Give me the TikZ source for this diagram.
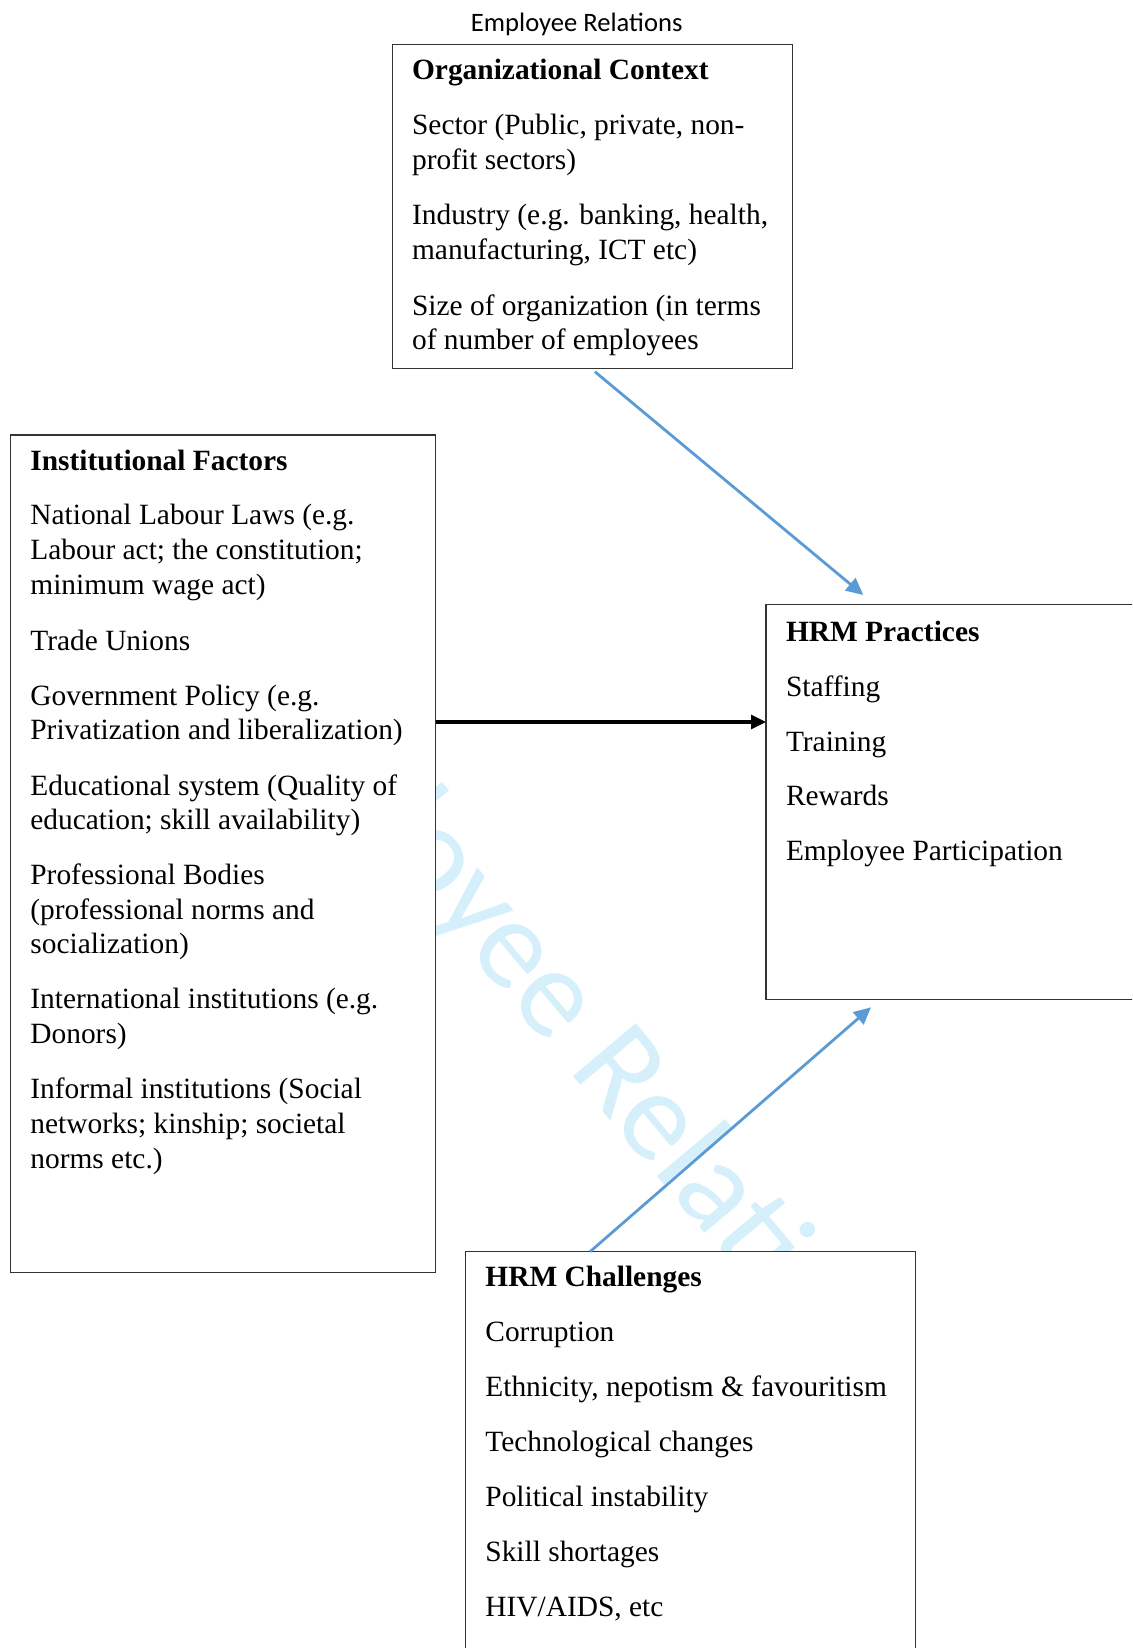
\documentclass[tikz,border=0pt]{standalone}
\usepackage{fontspec}
\setmainfont{Liberation Serif}
\newfontfamily\wmfont{Carlito}
\usetikzlibrary{arrows.meta}
\definecolor{arrowblue}{RGB}{91,155,213}
\definecolor{wmblue}{RGB}{213,239,251}
\begin{document}
\begin{tikzpicture}[x=0.5pt,y=-0.5pt,
  box/.style={draw=black!80, line width=0.65pt, fill=white, inner sep=0pt, outer sep=0pt, anchor=north west},
  txt/.style={anchor=base west, inner sep=0pt, font=\fontsize{14.7}{17}\selectfont},
  hd/.style={txt, font=\fontsize{14.7}{17}\selectfont\bfseries},
  barrow/.style={draw=arrowblue, line width=1.4pt, -{Triangle[length=8.5pt,width=8pt]}},
  karrow/.style={draw=black, line width=1.6pt, -{Triangle[length=7.5pt,width=7pt]}}]
\useasboundingbox (0,0) rectangle (1132,1648);
\clip (0,0) rectangle (1132,1648);

% watermark
\node[anchor=base, inner sep=0pt, rotate=-50, text=wmblue, font=\wmfont\fontsize{64}{64}\selectfont] (wm) at (546.7,1045) {Employee Relations};

% title
\node[anchor=base, inner sep=0pt, font=\wmfont\fontsize{13.3}{15}\selectfont] (title) at (576.7,31.7) {Employee Relations};

% boxes
\node[box, minimum width=200pt, minimum height=162pt] (org) at (392.7,44.3) {};
\node[box, minimum width=212.4pt, minimum height=418.65pt] (inst) at (10.7,435) {};
\node[box, minimum width=190pt, minimum height=197.6pt] (hrm) at (766,604.5) {};
\node[box, minimum width=225pt, minimum height=210pt] (chal) at (465.7,1251.7) {};

% organizational context
\node[hd] (o1) at (411.7,80) {Organizational Context};
\node[txt] (o2) at (411.7,135) {Sector (Public, private, non-};
\node[txt] (o3) at (411.7,170) {profit sectors)};
\node[txt] (o4) at (411.7,225) {Industry (e.g. banking, health,};
\node[txt] (o5) at (411.7,260) {manufacturing, ICT etc)};
\node[txt] (o6) at (411.7,315) {Size of organization (in terms};
\node[txt] (o7) at (411.7,349) {of number of employees};

% institutional factors
\node[hd] (i1) at (30,470) {Institutional Factors};
\node[txt] (i2) at (30,524) {National Labour Laws (e.g.};
\node[txt] (i3) at (30,559) {Labour act; the constitution;};
\node[txt] (i4) at (30,594) {minimum wage act)};
\node[txt] (i5) at (30,650) {Trade Unions};
\node[txt] (i6) at (30,705) {Government Policy (e.g.};
\node[txt] (i7) at (30,739.5) {Privatization and liberalization)};
\node[txt] (i8) at (30,795) {Educational system (Quality of};
\node[txt] (i9) at (30,829.5) {education; skill availability)};
\node[txt] (i10) at (30,884) {Professional Bodies};
\node[txt] (i11) at (30,919) {(professional norms and};
\node[txt] (i12) at (30,953.5) {socialization)};
\node[txt] (i13) at (30,1008.5) {International institutions (e.g.};
\node[txt] (i14) at (30,1043.5) {Donors)};
\node[txt] (i15) at (30,1098.5) {Informal institutions (Social};
\node[txt] (i16) at (30,1133.5) {networks; kinship; societal};
\node[txt] (i17) at (30,1168.5) {norms etc.)};

% HRM practices
\node[hd] (h1) at (785.6,641) {HRM Practices};
\node[txt] (h2) at (785.6,696) {Staffing};
\node[txt] (h3) at (785.6,751) {Training};
\node[txt] (h4) at (785.6,805.5) {Rewards};
\node[txt] (h5) at (785.6,860.5) {Employee Participation};

% HRM challenges
\node[hd] (c1) at (485,1286.7) {HRM Challenges};
\node[txt] (c2) at (485,1341.7) {Corruption};
\node[txt] (c3) at (485,1396.7) {Ethnicity, nepotism \& favouritism};
\node[txt] (c4) at (485,1451.7) {Technological changes};
\node[txt] (c5) at (485,1506.7) {Political instability};
\node[txt] (c6) at (485,1561.7) {Skill shortages};
\node[txt] (c7) at (485,1616.7) {HIV/AIDS, etc};

% connectors
\coordinate (t1) at (863.3,595);
\draw[barrow] ([xshift=1.1pt,yshift=-1.7pt]org.south) -- (t1);
\coordinate (k) at (0,722);
\draw[karrow] (inst.east |- k) -- (hrm.west |- k);
\coordinate (s2) at (590,1251.7);
\coordinate (t2) at (871,1007.3);
\draw[barrow] (s2) -- (t2);
\end{tikzpicture}
\end{document}
